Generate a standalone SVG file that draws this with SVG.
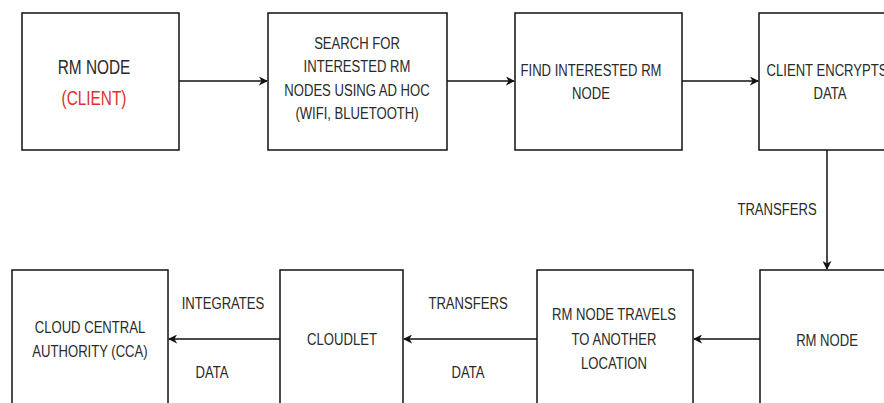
<svg xmlns="http://www.w3.org/2000/svg" width="884" height="403" viewBox="0 0 884 403">
<style>
.box{fill:#fff;stroke:#111;stroke-width:1.5}
.t{font-family:"Liberation Sans",Arial,sans-serif;font-size:17px;fill:#2a2a2a;text-anchor:middle}
.big{font-size:20px}
.red{fill:#e03030}
.c{stroke:#111;stroke-width:1.5;fill:none}
</style>
<defs>
<marker id="ah" viewBox="0 0 10 10" refX="9" refY="5" markerWidth="9" markerHeight="9" markerUnits="userSpaceOnUse" orient="auto">
<path d="M0,0 L10,5 L0,10 L3,5 Z" fill="#111"/>
</marker>
</defs>
<rect width="884" height="403" fill="#fff"/>
<g id="connectors">
<line class="c" x1="179" y1="81" x2="267" y2="81" marker-end="url(#ah)"/>
<line class="c" x1="447" y1="81" x2="514" y2="81" marker-end="url(#ah)"/>
<line class="c" x1="682" y1="81" x2="758" y2="81" marker-end="url(#ah)"/>
<line class="c" x1="827" y1="150" x2="827" y2="269" marker-end="url(#ah)"/>
<line class="c" x1="760" y1="339" x2="694" y2="339" marker-end="url(#ah)"/>
<line class="c" x1="537" y1="339" x2="404" y2="339" marker-end="url(#ah)"/>
<line class="c" x1="280" y1="339" x2="169" y2="339" marker-end="url(#ah)"/>
<text class="t" transform="translate(777 215) scale(0.77 1)">TRANSFERS</text>
<text class="t" transform="translate(468 309) scale(0.77 1)">TRANSFERS</text>
<text class="t" transform="translate(468 378) scale(0.77 1)">DATA</text>
<text class="t" transform="translate(223 309) scale(0.77 1)">INTEGRATES</text>
<text class="t" transform="translate(212 378) scale(0.77 1)">DATA</text>
</g>
<g id="n1">
<rect class="box" x="22" y="13" width="157" height="137"/>
<text class="t big" transform="translate(94 74) scale(0.77 1)">RM NODE</text>
<text class="t big red" transform="translate(94 105) scale(0.77 1)">(CLIENT)</text>
</g>
<g id="n2">
<rect class="box" x="268" y="13" width="179" height="137"/>
<text class="t" transform="translate(357 49) scale(0.77 1)">SEARCH FOR</text>
<text class="t" transform="translate(357 72) scale(0.77 1)">INTERESTED RM</text>
<text class="t" transform="translate(357 96) scale(0.77 1)">NODES USING AD HOC</text>
<text class="t" transform="translate(357 119) scale(0.77 1)">(WIFI, BLUETOOTH)</text>
</g>
<g id="n3">
<rect class="box" x="515" y="13" width="167" height="137"/>
<text class="t" transform="translate(591 76) scale(0.77 1)">FIND INTERESTED RM</text>
<text class="t" transform="translate(591 99) scale(0.77 1)">NODE</text>
</g>
<g id="n4">
<rect class="box" x="759" y="13" width="140" height="137"/>
<text class="t" transform="translate(827 76) scale(0.77 1)">CLIENT ENCRYPTS</text>
<text class="t" transform="translate(830 99) scale(0.77 1)">DATA</text>
</g>
<g id="n5">
<rect class="box" x="760" y="270" width="140" height="150"/>
<text class="t" transform="translate(827 346) scale(0.77 1)">RM NODE</text>
</g>
<g id="n6">
<rect class="box" x="537" y="270" width="156" height="150"/>
<text class="t" transform="translate(614 320) scale(0.77 1)">RM NODE TRAVELS</text>
<text class="t" transform="translate(614 345) scale(0.77 1)">TO ANOTHER</text>
<text class="t" transform="translate(614 369) scale(0.77 1)">LOCATION</text>
</g>
<g id="n7">
<rect class="box" x="280" y="270" width="123" height="150"/>
<text class="t" transform="translate(342 345) scale(0.77 1)">CLOUDLET</text>
</g>
<g id="n8">
<rect class="box" x="12" y="270" width="156" height="150"/>
<text class="t" transform="translate(90 333) scale(0.77 1)">CLOUD CENTRAL</text>
<text class="t" transform="translate(90 357) scale(0.77 1)">AUTHORITY (CCA)</text>
</g>
</svg>
